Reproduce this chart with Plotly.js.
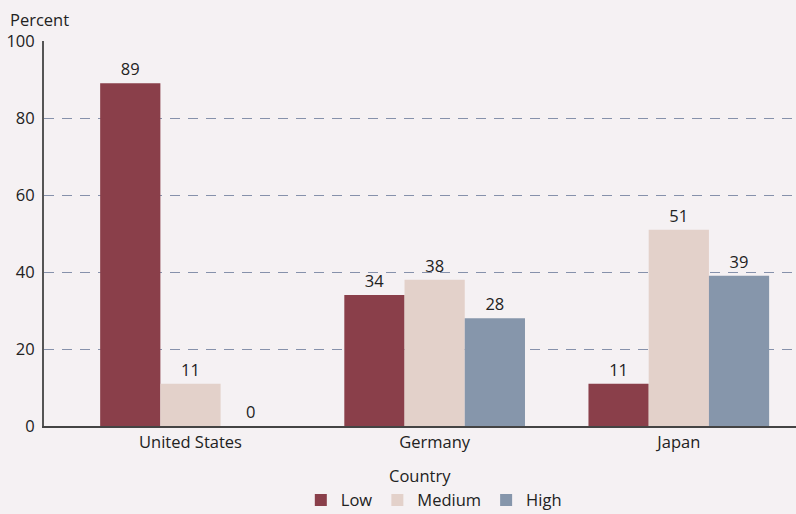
<!DOCTYPE html>
<html><head><meta charset="utf-8">
<script src="https://cdn.plot.ly/plotly-3.0.1.min.js"></script>
<style>html,body{margin:0;padding:0;background:#f5f1f3;}</style>
</head><body><div id="chart" style="width:796px;height:514px;"></div>
<script>
const categories = ["United States", "Germany", "Japan"];
const lowValues = [89, 34, 11];
const mediumValues = [11, 38, 51];
const highValues = [0, 28, 39];
const seriesNames = ["Low", "Medium", "High"];
const yTicks = [0, 20, 40, 60, 80, 100];

const colors = ["#8a3f4a", "#e3d1ca", "#8696ab"];
const font = "'Open Sans', 'Noto Sans', sans-serif";
const allVals = [lowValues, mediumValues, highValues];
const traces = allVals.map((vals, i) => ({
  type: "bar",
  name: seriesNames[i],
  x: categories,
  y: vals,
  marker: {color: colors[i]},
  text: vals.map(String),
  textposition: "outside",
  textfont: {family: font, size: 16.5, color: "#222"},
  cliponaxis: false
}));

const layout = {
  width: 796, height: 514,
  paper_bgcolor: "#f5f1f3", plot_bgcolor: "#f5f1f3",
  margin: {l: 44, r: 0, t: 41, b: 88, autoexpand: false},
  barmode: "group", bargap: 0.26, bargroupgap: 0,
  font: {family: font, size: 16.5, color: "#222"},
  showlegend: true,
  legend: {orientation: "h", x: 0.545, xanchor: "center", xref: "container",
           y: -0.193, yanchor: "middle", yref: "paper",
           font: {family: font, size: 16.5, color: "#222"}, traceorder: "normal",
           bgcolor: "rgba(0,0,0,0)"},
  xaxis: {type: "category", range: [-0.6, 2.48], showline: true, linecolor: "#444", linewidth: 2,
          ticks: "", showgrid: false, zeroline: false, automargin: false,
          tickfont: {family: font, size: 16.5, color: "#222"}},
  yaxis: {range: [0, 100], tickvals: yTicks, showline: true, linecolor: "#555", linewidth: 2,
          ticks: "", showgrid: true, gridcolor: "#8691ab", griddash: "10px,8px", gridwidth: 1.2,
          zeroline: false, automargin: false, tickfont: {family: font, size: 16.5, color: "#222"},
          ticklabelstandoff: 4},
  annotations: [
    {text: "Percent", xref: "paper", yref: "paper", x: -0.048, y: 1.0, yshift: 22,
     xanchor: "left", yanchor: "middle", showarrow: false,
     font: {family: font, size: 16.5, color: "#222"}},
    {text: "Country", xref: "paper", yref: "paper", x: 0.5, y: 0, yshift: -49,
     xanchor: "center", yanchor: "middle", showarrow: false,
     font: {family: font, size: 16.5, color: "#222"}}
  ]
};
Plotly.newPlot("chart", traces, layout, {displayModeBar: false});
</script></body></html>
